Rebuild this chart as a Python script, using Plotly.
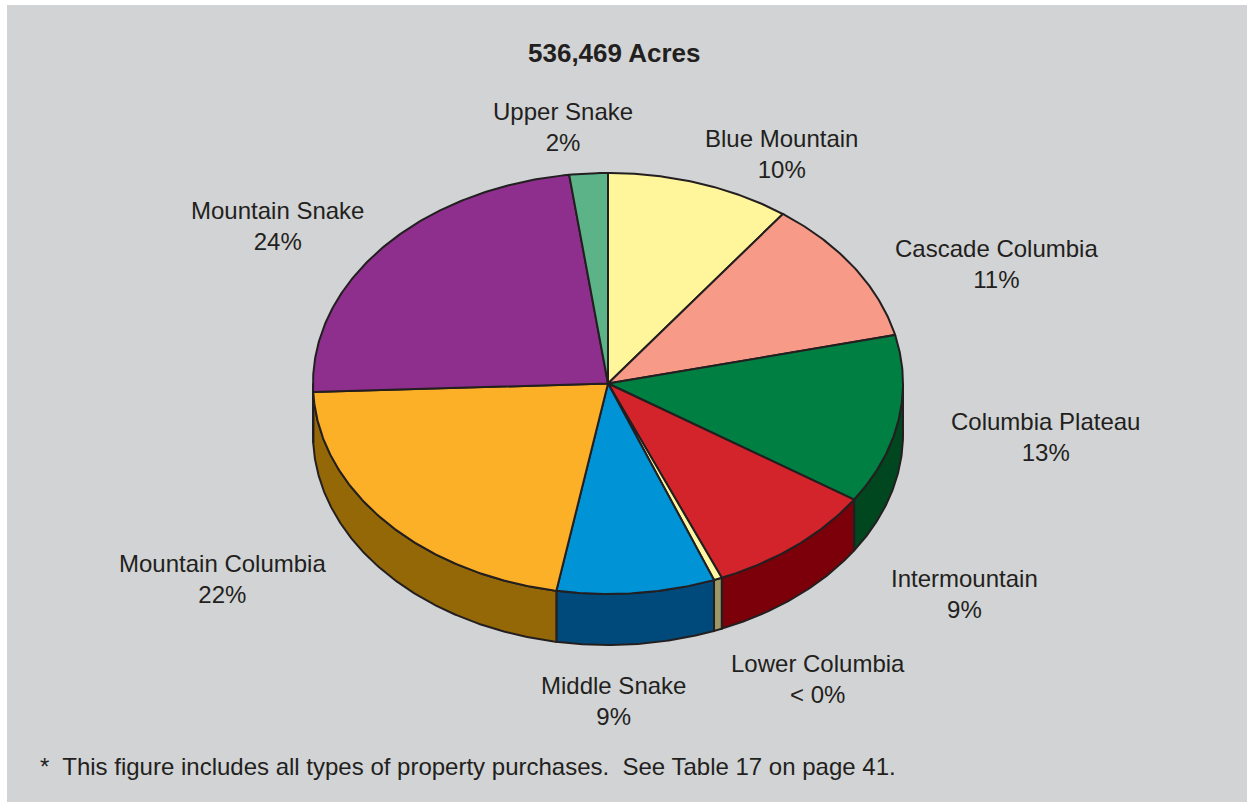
import numpy as np
import plotly.graph_objects as go

# Property purchases by region (acres), clockwise from 12 o'clock
regions = ["Blue Mountain", "Cascade Columbia", "Columbia Plateau", "Intermountain",
           "Lower Columbia", "Middle Snake", "Mountain Columbia", "Mountain Snake",
           "Upper Snake"]
acres = [54183, 60085, 69741, 50428, 2414, 46405, 115609, 126338, 11266]
top_colors = ["#fff69b", "#f79a88", "#007f42", "#d3232b", "#fff8a2", "#0093d6",
              "#fbb027", "#8e2f8e", "#5cb388"]
side_colors = ["#a39e5e", "#9e5f55", "#00461f", "#7b0009", "#9c9966", "#004a7b",
               "#946707", "#5a1d5a", "#3a7356"]

# Label anchors (pixel space) for each region's callout
label_pos = {
    "Blue Mountain": (781, 154), "Cascade Columbia": (996, 264),
    "Columbia Plateau": (1045, 437), "Intermountain": (964, 594),
    "Lower Columbia": (818, 679), "Middle Snake": (613, 701),
    "Mountain Columbia": (222, 579), "Mountain Snake": (277, 226),
    "Upper Snake": (563, 127),
}

W, H = 1250, 802
CX, CY, RX, RY, DEPTH = 608, 383.5, 295, 210.5, 51
OUTLINE = "#231f20"
BG = "#d1d3d4"

total = sum(acres)
shares = [a / total for a in acres]
cum = np.concatenate([[0], np.cumsum(shares)])


def rim(t_deg, drop=0.0):
    t = np.radians(t_deg)
    return CX + RX * np.sin(t), CY - RY * np.cos(t) + drop


fig = go.Figure()

# Visible outer walls (front half of the disc)
for i, name in enumerate(regions):
    a, b = 360 * cum[i], 360 * cum[i + 1]
    lo, hi = max(a, 90), min(b, 270)
    if hi <= lo:
        continue
    t = np.linspace(lo, hi, max(4, int((hi - lo) * 2)))
    xt, yt = rim(t)
    xb, yb = rim(t[::-1], DEPTH)
    fig.add_trace(go.Scatter(
        x=np.concatenate([xt, xb, xt[:1]]), y=np.concatenate([yt, yb, yt[:1]]),
        mode="lines", fill="toself", fillcolor=side_colors[i],
        line=dict(color=OUTLINE, width=2), hoverinfo="skip", showlegend=False))

# Top faces
for i, name in enumerate(regions):
    a, b = 360 * cum[i], 360 * cum[i + 1]
    t = np.linspace(a, b, max(4, int((b - a) * 2)))
    xs, ys = rim(t)
    fig.add_trace(go.Scatter(
        x=np.concatenate([[CX], xs, [CX]]), y=np.concatenate([[CY], ys, [CY]]),
        mode="lines", fill="toself", fillcolor=top_colors[i],
        line=dict(color=OUTLINE, width=2), name=name,
        hovertemplate=f"{name}: {acres[i]:,} acres<extra></extra>", showlegend=False))

font = dict(family="Liberation Sans, Arial, sans-serif", size=24, color=OUTLINE)
annotations = []
for i, name in enumerate(regions):
    pct = 100 * shares[i]
    pct_txt = "< 0%" if pct < 0.5 else f"{round(pct)}%"
    x, y = label_pos[name]
    annotations.append(dict(x=x, y=y, xref="x", yref="y", text=f"{name}<br>{pct_txt}",
                            showarrow=False, xanchor="center", yanchor="middle",
                            font=font, align="center"))

annotations.append(dict(x=614, y=53, xref="x", yref="y", text=f"<b>{total:,} Acres</b>",
                        showarrow=False, xanchor="center", yanchor="middle",
                        font=dict(font, size=26)))
annotations.append(dict(x=38, y=766, xref="x", yref="y",
                        text="*\u00a0 This figure includes all types of property purchases.\u00a0 See Table 17 on page 41.",
                        showarrow=False, xanchor="left", yanchor="middle", font=font))

fig.update_layout(
    width=W, height=H,
    margin=dict(l=7, r=3, t=5, b=0),
    paper_bgcolor="white", plot_bgcolor=BG,
    xaxis=dict(range=[7, W - 3], visible=False, fixedrange=True),
    yaxis=dict(range=[H, 5], visible=False, fixedrange=True),
    annotations=annotations,
)

fig.write_html("out.html")
